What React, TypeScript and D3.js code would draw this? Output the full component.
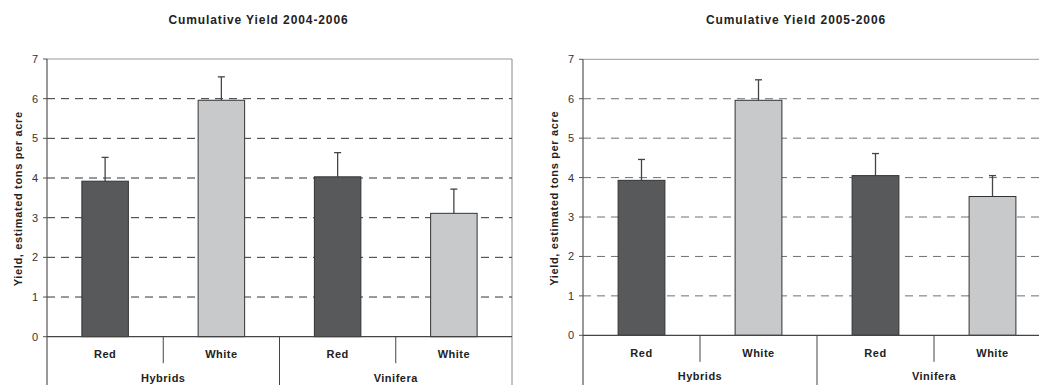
import React from "react";
import { scaleBand, scaleLinear, range } from "d3";

const width = 1039;
const height = 385;

// grape classes along the x axis
const categories = ["Red", "White", "Red", "White"];
const groups = ["Hybrids", "Vinifera"];

// cumulative yield, estimated tons per acre
const yield0406 = [3.92, 5.96, 4.03, 3.11];
const err0406 = [0.6, 0.59, 0.61, 0.61];
const yield0506 = [3.93, 5.96, 4.05, 3.52];
const err0506 = [0.53, 0.52, 0.56, 0.53];

const yTicks = [0, 1, 2, 3, 4, 5, 6, 7];

const barColors = ["#58595b", "#c8c9cb", "#58595b", "#c8c9cb"];
const font = "'Liberation Sans', Arial, sans-serif";

const Chart = ({ title, values, errors, left, top, zero, bandW, grid }) => {
  const keys = categories.map((_, i) => i);
  const x = scaleBand().domain(keys).range([left, left + bandW * categories.length]);
  const y = scaleLinear().domain([0, 7]).range([zero, top]);
  const right = left + bandW * categories.length;
  const barW = x.bandwidth() * 0.4;

  return (
    <g fontFamily={font}>
      <text
        x={left + (right - left) / 2 - 21}
        y={24}
        textAnchor="middle"
        fontSize={12}
        fontWeight="bold"
        letterSpacing={0.9}
        fill="#222"
      >
        {title}
      </text>

      <text
        transform={`translate(${left - 25},${(top + zero) / 2 + 1}) rotate(-90)`}
        textAnchor="middle"
        fontSize={11}
        fontWeight="bold"
        letterSpacing={0.65}
        fill="#222"
      >
        Yield, estimated tons per acre
      </text>

      {/* plot frame top & right */}
      <line x1={left} x2={right} y1={y(7)} y2={y(7)} stroke="#999" />
      <line x1={right} x2={right} y1={y(7)} y2={height} stroke="#888" />

      {yTicks.slice(1, 7).map((t) => (
        <line
          key={t}
          x1={left}
          x2={right}
          y1={y(t)}
          y2={y(t)}
          stroke={grid}
          strokeDasharray="8,6"
        />
      ))}

      {yTicks.map((t) => (
        <g key={t}>
          <line x1={left - 4} x2={left} y1={y(t)} y2={y(t)} stroke="#555" />
          <text
            x={left - 9}
            y={y(t) + 4}
            textAnchor="end"
            fontSize={11}
            fill="#333"
          >
            {t}
          </text>
        </g>
      ))}

      {values.map((v, i) => {
        const cx = x(i) + x.bandwidth() / 2;
        return (
          <g key={i}>
            <line
              x1={cx}
              x2={cx}
              y1={y(v)}
              y2={y(v + errors[i])}
              stroke="#444"
              strokeWidth={1.3}
            />
            <line
              x1={cx - 3.5}
              x2={cx + 3.5}
              y1={y(v + errors[i])}
              y2={y(v + errors[i])}
              stroke="#444"
              strokeWidth={1.3}
            />
            <rect
              x={cx - barW / 2}
              y={y(v)}
              width={barW}
              height={y(0) - y(v)}
              fill={barColors[i]}
              stroke="#333"
              strokeWidth={1}
            />
          </g>
        );
      })}

      {/* axes */}
      <line x1={left} x2={left} y1={y(7)} y2={height} stroke="#555" strokeWidth={1.2} />
      <line x1={left} x2={right} y1={y(0)} y2={y(0)} stroke="#444" strokeWidth={1.2} />

      {range(1, categories.length).map((i) => (
        <line
          key={i}
          x1={x(i)}
          x2={x(i)}
          y1={y(0)}
          y2={i % 2 === 0 ? height : y(0) + 26.5}
          stroke="#444"
        />
      ))}

      {categories.map((c, i) => (
        <text
          key={i}
          x={x(i) + x.bandwidth() / 2}
          y={y(0) + 21.5}
          textAnchor="middle"
          fontSize={11}
          fontWeight="bold"
          letterSpacing={0.5}
          fill="#222"
        >
          {c}
        </text>
      ))}

      {groups.map((g, i) => (
        <text
          key={g}
          x={x(i * 2) + x.bandwidth()}
          y={y(0) + 45}
          textAnchor="middle"
          fontSize={11}
          fontWeight="bold"
          letterSpacing={0.5}
          fill="#222"
        >
          {g}
        </text>
      ))}
    </g>
  );
};

export default function App() {
  return (
    <svg
      width={width}
      height={height}
      style={{ position: "absolute", left: 0, top: 0, background: "#fff" }}
    >
      <Chart
        title="Cumulative Yield 2004-2006"
        values={yield0406}
        errors={err0406}
        left={47}
        top={59}
        zero={336.7}
        bandW={116.25}
        grid="#333"
      />
      <Chart
        title="Cumulative Yield 2005-2006"
        values={yield0506}
        errors={err0506}
        left={583}
        top={59.3}
        zero={335.3}
        bandW={117}
        grid="#707070"
      />
    </svg>
  );
}
